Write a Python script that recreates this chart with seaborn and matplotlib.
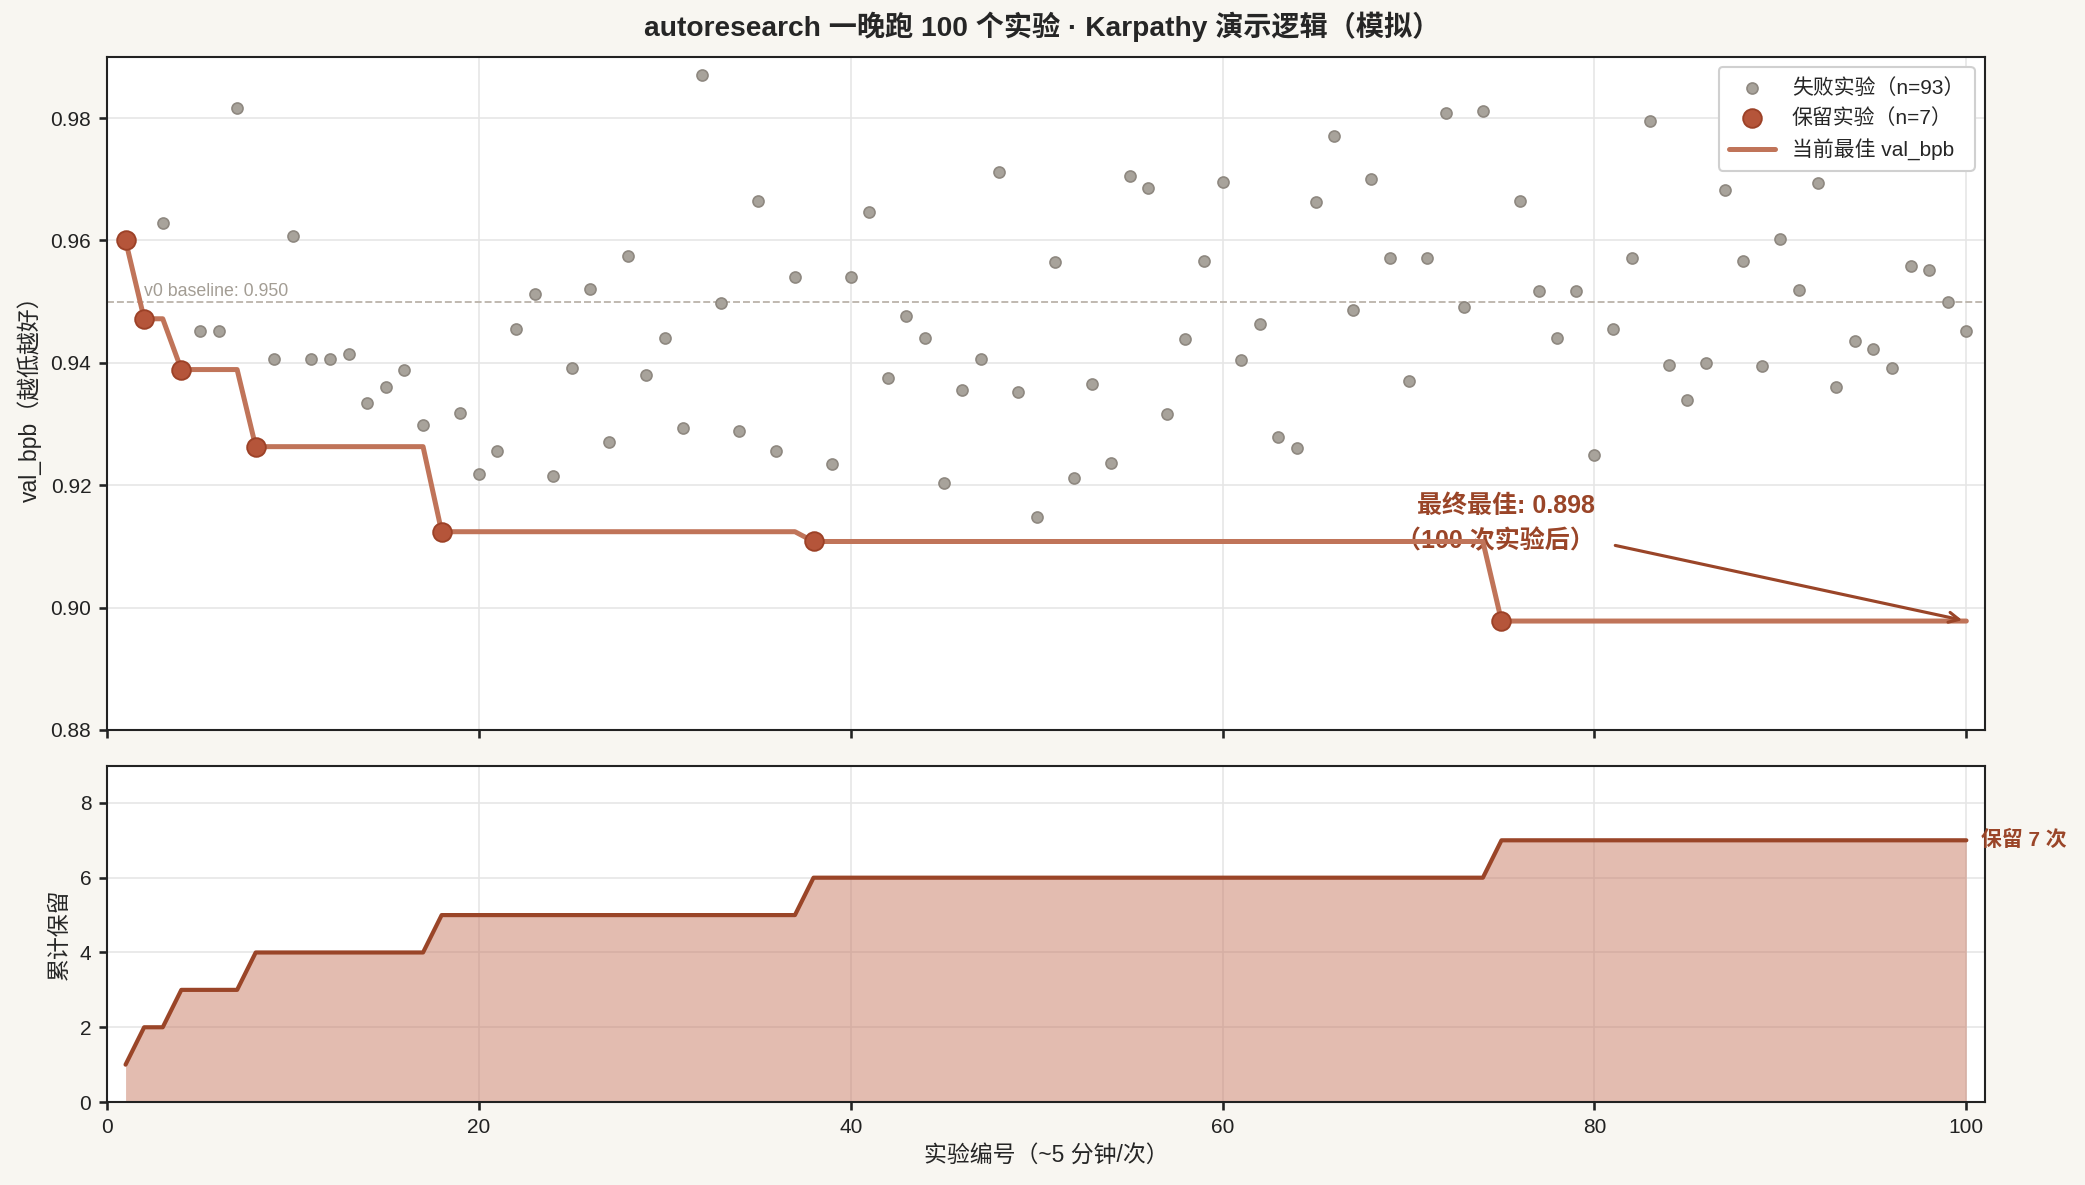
import numpy as np
import pandas as pd
import matplotlib
matplotlib.use("Agg")
import matplotlib.pyplot as plt
import seaborn as sns

# ---------------- data ----------------
kept_x = [1, 2, 4, 8, 18, 38, 75]
kept_y = [0.9600, 0.9472, 0.9389, 0.9263, 0.9124, 0.9108, 0.8978]

failed_x = [3, 5, 6, 7, 9, 10, 11, 12, 13, 14, 15, 16, 17,
            19, 20, 21, 22, 23, 24, 25, 26, 27, 28, 29, 30, 31, 32, 33, 34, 35, 36, 37,
            39, 40, 41, 42, 43, 44, 45, 46, 47, 48, 49, 50, 51, 52, 53, 54, 55, 56, 57,
            58, 59, 60, 61, 62, 63, 64, 65, 66, 67, 68, 69, 70, 71, 72, 73, 74,
            76, 77, 78, 79, 80, 81, 82, 83, 84, 85, 86, 87, 88, 89, 90, 91, 92, 93,
            94, 95, 96, 97, 98, 99, 100]
failed_y = [0.9629, 0.9452, 0.9452, 0.9816, 0.9406, 0.9607, 0.9407, 0.9407, 0.9415,
            0.9334, 0.9360, 0.9388, 0.9298,
            0.9318, 0.9218, 0.9256, 0.9455, 0.9513, 0.9215, 0.9391, 0.9521, 0.9271,
            0.9575, 0.9380, 0.9441, 0.9293, 0.9870, 0.9497, 0.9289, 0.9665, 0.9256, 0.9541,
            0.9235, 0.9540, 0.9647, 0.9376, 0.9477, 0.9440, 0.9204, 0.9356, 0.9407,
            0.9712, 0.9353, 0.9148, 0.9565, 0.9212, 0.9365, 0.9236, 0.9705, 0.9686, 0.9316,
            0.9439, 0.9567, 0.9695, 0.9404, 0.9463, 0.9279, 0.9261, 0.9663, 0.9771,
            0.9486, 0.9700, 0.9572, 0.9371, 0.9572, 0.9808, 0.9492, 0.9812,
            0.9665, 0.9518, 0.9440, 0.9518, 0.9250, 0.9456, 0.9572, 0.9795, 0.9396,
            0.9339, 0.9399, 0.9682, 0.9567, 0.9394, 0.9603, 0.9519, 0.9694, 0.9360,
            0.9435, 0.9422, 0.9392, 0.9559, 0.9552, 0.9500, 0.9452]

baseline = 0.950

# ---------------- derived tables ----------------
fail_df = pd.DataFrame({"exp": failed_x, "val": failed_y, "kept": False})
kept_df = pd.DataFrame({"exp": kept_x, "val": kept_y, "kept": True})
all_df = pd.concat([fail_df, kept_df]).sort_values("exp").reset_index(drop=True)
all_df["best"] = all_df["val"].cummin()
all_df["cum_kept"] = all_df["kept"].astype(int).cumsum()

# ---------------- style ----------------
BG = "#f8f6f1"
GRAY = "#a8a39b"
GRAY_EDGE = "#8e8880"
RUST = "#b5553a"
RUST_EDGE = "#9c4127"
BEST = "#c07459"
DARK = "#9a4528"

sns.set_theme(style="whitegrid")
plt.rcParams["font.family"] = ["Liberation Sans", "Noto Sans CJK SC", "DejaVu Sans"]
plt.rcParams["axes.unicode_minus"] = False
plt.rcParams.update({
    "figure.facecolor": BG,
    "axes.facecolor": "white",
    "axes.edgecolor": "#222222",
    "axes.linewidth": 1.0,
    "grid.color": "#e6e6e6",
    "grid.linewidth": 0.8,
    "xtick.color": "#222222",
    "ytick.color": "#222222",
    "xtick.bottom": True,
    "ytick.left": True,
    "xtick.major.size": 4,
    "ytick.major.size": 4,
    "xtick.labelsize": 10,
    "ytick.labelsize": 10,
})

fig = plt.figure(figsize=(13.9, 7.9), dpi=150)
fig.patch.set_facecolor(BG)
ax1 = fig.add_axes([0.0513, 0.384, 0.9007, 0.568])
ax2 = fig.add_axes([0.0513, 0.070, 0.9007, 0.284], sharex=ax1)

# ---- top panel ----
ax1.axhline(baseline, color="#bdb6ad", lw=0.9, ls="--", zorder=1)
ax1.text(2.0, baseline + 0.0003, f"v0 baseline: {baseline:.3f}", color="#a39d94",
         fontsize=8.5, ha="left", va="bottom")

sns.scatterplot(data=fail_df, x="exp", y="val", ax=ax1, color=GRAY, edgecolor=GRAY_EDGE,
                linewidth=0.8, s=28, zorder=3, label="失败实验（n=93）")
sns.lineplot(data=all_df, x="exp", y="best", ax=ax1, color=BEST, lw=2.4, zorder=4,
             label="当前最佳 val_bpb")
sns.scatterplot(data=kept_df, x="exp", y="val", ax=ax1, color=RUST, edgecolor=RUST_EDGE,
                linewidth=0.9, s=80, zorder=5, label="保留实验（n=7）")

ax1.set_xlim(0, 101)
ax1.set_ylim(0.88, 0.99)
ax1.set_yticks([0.88, 0.90, 0.92, 0.94, 0.96, 0.98])
ax1.set_xticks([0, 20, 40, 60, 80, 100])
ax1.tick_params(labelbottom=False)
ax1.set_xlabel("")
ax1.set_ylabel("val_bpb（越低越好）", fontsize=11)
for sp in ax1.spines.values():
    sp.set_visible(True)
    sp.set_color("#222222")

h, l = ax1.get_legend_handles_labels()
order = [l.index("失败实验（n=93）"), l.index("保留实验（n=7）"), l.index("当前最佳 val_bpb")]
ax1.legend([h[i] for i in order], [l[i] for i in order], loc="upper right",
           fontsize=10, frameon=True, facecolor="white", edgecolor="#d0d0d0",
           framealpha=1.0, borderpad=0.5, handlelength=2.2)

final_best = kept_y[-1]
ax1.text(80.0, 0.9137, f"最终最佳: {final_best:.3f}\n（100 次实验后）", color=DARK,
         fontsize=12, fontweight="bold", ha="right", va="center", multialignment="right",
         linespacing=1.55, zorder=3.5)
ax1.annotate("", xy=(100, final_best), xytext=(80.9, 0.9103),
             arrowprops=dict(arrowstyle="->", color=DARK, lw=1.5), zorder=6)

# ---- bottom panel ----
ax2.fill_between(all_df["exp"], all_df["cum_kept"], color="#c87a63", alpha=0.5, lw=0,
                 zorder=2)
sns.lineplot(data=all_df, x="exp", y="cum_kept", ax=ax2, color=DARK, lw=2.0, zorder=3)
ax2.set_ylim(0, 9)
ax2.set_yticks([0, 2, 4, 6, 8])
ax2.set_xlim(0, 101)
ax2.set_xticks([0, 20, 40, 60, 80, 100])
ax2.set_ylabel("累计保留", fontsize=11)
ax2.set_xlabel("实验编号（~5 分钟/次）", fontsize=11)
ax2.text(100.8, all_df["cum_kept"].iloc[-1], f"保留 {all_df['cum_kept'].iloc[-1]} 次",
         color=DARK, fontsize=10, fontweight="bold", ha="left", va="center",
         clip_on=False)
for sp in ax2.spines.values():
    sp.set_visible(True)
    sp.set_color("#222222")

fig.suptitle("autoresearch 一晚跑 100 个实验 · Karpathy 演示逻辑（模拟）", fontsize=13.5,
             fontweight="bold", y=0.99)

fig.savefig("out.png", dpi=150, facecolor=BG)
